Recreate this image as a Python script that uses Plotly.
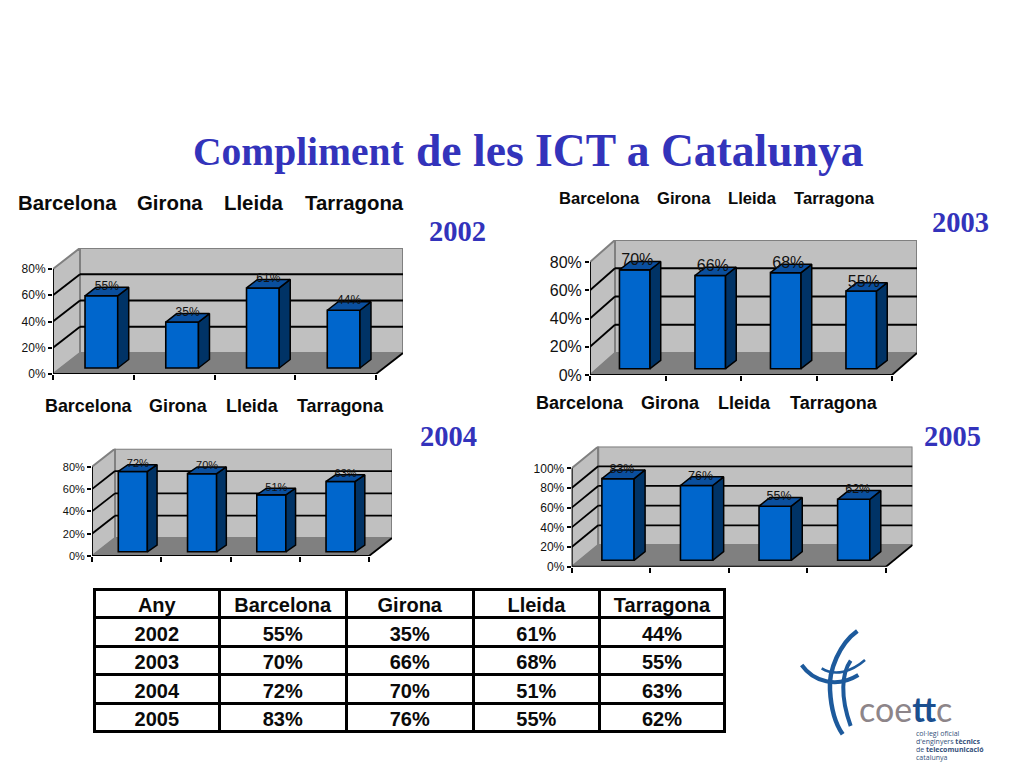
import plotly.graph_objects as go

# ---------- data ----------
CATEGORIES = ["Barcelona", "Girona", "Lleida", "Tarragona"]
YEARS = ["2002", "2003", "2004", "2005"]
VALUES_2002 = [55, 35, 61, 44]
VALUES_2003 = [70, 66, 68, 55]
VALUES_2004 = [72, 70, 51, 63]
VALUES_2005 = [83, 76, 55, 62]
TICKS_80 = [0, 20, 40, 60, 80]
TICKS_100 = [0, 20, 40, 60, 80, 100]
TABLE_HEADER = ["Any"] + CATEGORIES

W, H = 1024, 768
def px(x): return x / W
def py(y): return 1 - y / H

BLUE = "#3333bb"
charts = [
    dict(vals=VALUES_2002, ticks=TICKS_80, x0=53, x1=376, y0=374, ym=269, dx=27, dy=21,
         off=8, base=6, bw=.405, ddx=11, ddy=8.5, lbl=(5.5, -9), fs=12, tfs=12,
         cats=[17, 136, 223, 304], caty=203, catfs=20.4, yr=(457, 232)),
    dict(vals=VALUES_2003, ticks=TICKS_80, x0=590, x1=892, y0=375, ym=262, dx=25, dy=22,
         off=7, base=6.3, bw=.405, ddx=10.7, ddy=8.3, lbl=(2.5, -8.5), fs=16, tfs=16,
         cats=[558, 656, 727, 793], caty=198, catfs=16.6, yr=(960, 223)),
    dict(vals=VALUES_2004, ticks=TICKS_80, x0=92, x1=369, y0=556, ym=466.7, dx=23, dy=18,
         off=6.2, base=4.2, bw=.42, ddx=9.7, ddy=6.7, lbl=(5, -7), fs=11, tfs=11,
         cats=[44, 148, 225, 296], caty=406, catfs=17.9, yr=(448, 436)),
    dict(vals=VALUES_2005, ticks=TICKS_100, x0=571.7, x1=886, y0=566.7, ym=468.3, dx=26.5, dy=21.7,
         off=7, base=6.4, bw=.41, ddx=11, ddy=8.7, lbl=(4, -9), fs=12.5, tfs=12,
         cats=[535, 640, 717, 789], caty=403, catfs=18, yr=(952, 436)),
]

fig = go.Figure()
shapes, annotations = [], []

def poly(pts):
    return "M " + " L ".join(f"{a} {b}" for a, b in pts) + " Z"

for i, c in enumerate(charts, start=1):
    xn, yn = ("x", "y") if i == 1 else (f"x{i}", f"y{i}")
    xk, yk = ("xaxis", "yaxis") if i == 1 else (f"xaxis{i}", f"yaxis{i}")
    n = len(c["vals"])
    vmax = c["ticks"][-1]
    ux = (c["x1"] - c["x0"]) / n              # pixels per category
    uy = (c["y0"] - c["ym"]) / vmax           # pixels per percent
    dxu, dyu = c["dx"] / ux, c["dy"] / uy
    fig.layout[xk] = dict(domain=[px(c["x0"]), px(c["x1"] + c["dx"])], range=[0, n + dxu],
                          anchor=yn, tickmode="array", tickvals=list(range(n + 1)),
                          ticktext=[""] * (n + 1), ticks="outside", ticklen=5, tickwidth=1.5,
                          tickcolor="black", showgrid=False, zeroline=False, showline=False,
                          fixedrange=True)
    fig.layout[yk] = dict(domain=[py(c["y0"]), py(c["ym"] - c["dy"])], range=[0, vmax + dyu],
                          anchor=xn, tickmode="array", tickvals=c["ticks"],
                          ticktext=[f"{t}%" for t in c["ticks"]], ticks="outside", ticklen=4,
                          tickwidth=1.5, tickcolor="black", showgrid=False, zeroline=False,
                          showline=False, fixedrange=True,
                          tickfont=dict(family="Liberation Sans", size=c["tfs"], color="#111111"))
    ref = dict(xref=xn, yref=yn, layer="below")
    grey = dict(color="#808080", width=2)
    shapes.append(dict(type="path", path=poly([(0, 0), (dxu, dyu), (dxu, vmax + dyu), (0, vmax)]),
                       fillcolor="#c0c0c0", line=grey, **ref))
    shapes.append(dict(type="path", path=poly([(dxu, dyu), (n + dxu, dyu), (n + dxu, vmax + dyu), (dxu, vmax + dyu)]),
                       fillcolor="#c0c0c0", line=grey, **ref))
    shapes.append(dict(type="path", path=poly([(0, 0), (n, 0), (n + dxu, dyu), (dxu, dyu)]),
                       fillcolor="#808080", line=dict(color="#808080", width=1), **ref))
    black = dict(color="black", width=1.8)
    for t in c["ticks"][1:-1]:
        shapes.append(dict(type="line", x0=0, y0=t, x1=dxu, y1=t + dyu, line=black, **ref))
        shapes.append(dict(type="line", x0=dxu, y0=t + dyu, x1=n + dxu, y1=t + dyu, line=black, **ref))
    shapes.append(dict(type="line", x0=0, y0=0, x1=0, y1=vmax, line=black, **ref))
    shapes.append(dict(type="line", x0=0, y0=0, x1=n, y1=0, line=black, **ref))
    shapes.append(dict(type="line", x0=n, y0=0, x1=n + dxu, y1=dyu, line=black, **ref))

    off, base = c["off"] / ux, c["base"] / uy
    bw = c["bw"]
    centers = [k + .5 + off for k in range(n)]
    fig.add_trace(go.Bar(x=centers, y=c["vals"], base=[base] * n, width=[bw] * n,
                         marker=dict(color="#0066cc", line=dict(color="black", width=1.6)),
                         hovertext=CATEGORIES, xaxis=xn, yaxis=yn, showlegend=False))
    ddx, ddy = c["ddx"] / ux, c["ddy"] / uy
    sx, sy, tx, ty = [], [], [], []
    for cx, v in zip(centers, c["vals"]):
        l, r = cx - bw / 2, cx + bw / 2
        b, t = base, base + v
        sx += [r, r + ddx, r + ddx, r, r, None]
        sy += [b, b + ddy, t + ddy, t, b, None]
        tx += [l, r, r + ddx, l + ddx, l, None]
        ty += [t, t, t + ddy, t + ddy, t, None]
    line = dict(color="black", width=1.5)
    fig.add_trace(go.Scatter(x=sx, y=sy, mode="lines", fill="toself", fillcolor="#003366", line=line,
                             xaxis=xn, yaxis=yn, showlegend=False, hoverinfo="skip"))
    fig.add_trace(go.Scatter(x=tx, y=ty, mode="lines", fill="toself", fillcolor="#0a4f9e", line=line,
                             xaxis=xn, yaxis=yn, showlegend=False, hoverinfo="skip"))
    fig.add_trace(go.Scatter(x=[cx + c["lbl"][0] / ux for cx in centers],
                             y=[base + v - c["lbl"][1] / uy for v in c["vals"]],
                             mode="text", text=[f"{v}%" for v in c["vals"]], textposition="middle center",
                             textfont=dict(family="Liberation Sans", size=c["fs"], color="#111111"),
                             xaxis=xn, yaxis=yn, showlegend=False, hoverinfo="skip"))
    for name, cx in zip(CATEGORIES, c["cats"]):
        annotations.append(dict(text=f"<b>{name}</b>", x=px(cx), y=py(c["caty"]), xref="paper", yref="paper",
                                xanchor="left", yanchor="middle", showarrow=False, xshift=-1,
                                font=dict(family="Liberation Sans", size=c["catfs"], color="#0a0a0a")))
    annotations.append(dict(text=f"<b>{YEARS[i - 1]}</b>", x=px(c["yr"][0]), y=py(c["yr"][1]), xref="paper",
                            yref="paper", xanchor="center", yanchor="middle", showarrow=False,
                            font=dict(family="Liberation Serif", size=28.5, color=BLUE)))

# title
annotations.append(dict(text="<b>Compliment</b>", x=px(191), y=py(152), xref="paper", yref="paper",
                        xanchor="left", yanchor="middle", showarrow=False,
                        font=dict(family="Liberation Serif", size=39.5, color=BLUE)))
annotations.append(dict(text="<b>de les ICT a Catalunya</b>", x=px(413.5), y=py(150), xref="paper", yref="paper",
                        xanchor="left", yanchor="middle", showarrow=False,
                        font=dict(family="Liberation Serif", size=45.6, color=BLUE)))

# table
rows = [VALUES_2002, VALUES_2003, VALUES_2004, VALUES_2005]
cols = [YEARS] + [[f"{r[j]}%" for r in rows] for j in range(len(CATEGORIES))]
tfont = dict(family="Liberation Sans", size=20, color="#0a0a0a", weight=700)
fig.add_trace(go.Table(
    domain=dict(x=[px(94.5), px(725)], y=[py(735), py(589)]),
    columnwidth=[124.5, 127, 127, 126, 125],
    header=dict(values=TABLE_HEADER, height=28.5, align="center", fill_color="white",
                line=dict(color="black", width=3), font=tfont),
    cells=dict(values=cols, height=28.5, align="center", fill_color="white",
               line=dict(color="black", width=3), font=tfont)))

# logo
LOGO = "#1d5a9c"
def lpath(d):
    out = []
    for tok in d.split():
        if "," in tok:
            a, b = tok.split(",")
            out.append(f"{px(780 + float(a) / 3):.5f},{py(620 + float(b) / 3):.5f}")
        else:
            out.append(tok)
    return " ".join(out)
for d, w in [("M 232,33 C 180,70 145,150 150,210 C 153,265 165,310 188,343", 4.5),
             ("M 212,122 C 185,160 180,230 212,318", 4),
             ("M 65,135 C 100,185 170,205 235,165", 4),
             ("M 125,145 C 165,170 215,155 255,120", 2.5)]:
    shapes.append(dict(type="path", path=lpath(d), xref="paper", yref="paper",
                       line=dict(color=LOGO, width=w), fillcolor="rgba(0,0,0,0)"))
annotations.append(dict(text='coe<b><span style="color:#1b4f8f">tt</span></b>c', x=px(858), y=py(708),
                        xref="paper", yref="paper", xanchor="left", yanchor="middle", showarrow=False,
                        borderpad=0, font=dict(family="Lato", size=34, color="#8d8589")))
small = ["col·legi oficial", "d'enginyers <b>tècnics</b>", "de <b>telecomunicació</b>", "catalunya"]
for txt, y in zip(small, [733, 741, 749, 757]):
    annotations.append(dict(text=txt, x=px(914), y=py(y), xref="paper", yref="paper", xanchor="left",
                            yanchor="middle", showarrow=False,
                            font=dict(family="Open Sans", size=7, color="#33507a")))

fig.update_layout(width=W, height=H, margin=dict(l=0, r=0, t=0, b=0, autoexpand=False), showlegend=False,
                  paper_bgcolor="white", plot_bgcolor="rgba(0,0,0,0)",
                  shapes=shapes, annotations=annotations)
fig.write_html("out.html", config=dict(displayModeBar=False),
               post_script="document.body.style.margin='0';document.body.style.overflow='hidden';")
